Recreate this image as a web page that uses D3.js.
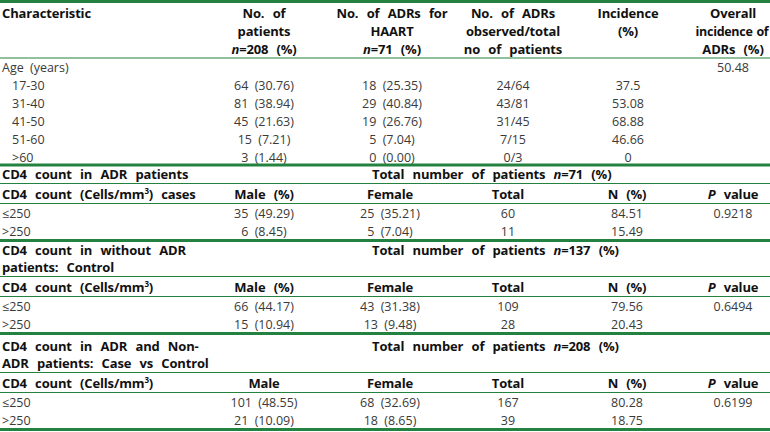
<!DOCTYPE html>
<html><head><meta charset="utf-8">
<script src="https://cdn.jsdelivr.net/npm/d3@7"></script>
<style>
body{margin:0;background:#fff;}
text{font-family:"Open Sans",sans-serif;word-spacing:3px;}
text.b{word-spacing:5px;letter-spacing:-0.15px;}
text.narrow{word-spacing:1px;letter-spacing:-0.3px;}
</style></head>
<body><svg id="c" width="770" height="432"></svg>
<script>
// ---- data ----
const ageGroups = ["17-30","31-40","41-50","51-60",">60"];
const agePatients = ["64 (30.76)","81 (38.94)","45 (21.63)","15 (7.21)","3 (1.44)"];
const ageADRs = ["18 (25.35)","29 (40.84)","19 (26.76)","5 (7.04)","0 (0.00)"];
const ageObserved = ["24/64","43/81","31/45","7/15","0/3"];
const ageIncidence = ["37.5","53.08","68.88","46.66","0"];
const overallIncidence = "50.48";

const cd4Categories = ["≤250", ">250"];
const sectionTitles = [["CD4 count in ADR patients"],["CD4 count in without ADR","patients: Control"],["CD4 count in ADR and Non-","ADR patients: Case vs Control"]];
const sectionN = ["71","137","208"];
const sectionLabel = ["CD4 count (Cells/mm³) cases","CD4 count (Cells/mm³)","CD4 count (Cells/mm³)"];
const sectionMaleHead = ["Male (%)","Male (%)","Male"];
const maleVals = [["35 (49.29)","6 (8.45)"],["66 (44.17)","15 (10.94)"],["101 (48.55)","21 (10.09)"]];
const femaleVals = [["25 (35.21)","5 (7.04)"],["43 (31.38)","13 (9.48)"],["68 (32.69)","18 (8.65)"]];
const totalVals = [["60","11"],["109","28"],["167","39"]];
const nPctVals = [["84.51","15.49"],["79.56","20.43"],["80.28","18.75"]];
const pVals = ["0.9218","0.6494","0.6199"];

// ---- layout ----
const svg = d3.select("#c");
const colX = d3.scaleOrdinal().domain(["c1","c2","c3","c4","c5","c6"]).range([2,264,392,513,628,733]);
const thick = "#23823f", thin = "#6aaa78";
const txt = "#3a3a3a";
const FS = 12.5, FB = 13;

function line(y, w){ svg.append("line").attr("x1",0).attr("x2",770).attr("y1",y).attr("y2",y)
  .attr("stroke", w>1?thick:thin).attr("stroke-width",w); }
function t(x,y,o={}){
  return svg.append("text").attr("class",o.bold?"b":null).attr("x",x).attr("y",y+4.5)
    .attr("text-anchor",o.anchor||"middle").attr("font-size",o.bold?FB:FS)
    .attr("font-weight",o.bold?700:400).attr("fill",o.bold?"#111":txt);
}
function rich(e, parts){ parts.forEach(p=>{ const ts=e.append("tspan").text(p.s);
  if(p.i) ts.attr("font-style","italic"); }); return e; }
function plain(x,y,s,o){ return t(x,y,o).text(s); }
function withSup(x,y,s,o){
  const e=t(x,y,o); const i=s.indexOf("³");
  if(i<0){e.text(s);return e;}
  e.append("tspan").text(s.slice(0,i));
  e.append("tspan").text("3").attr("font-size",8).attr("dy",-5);
  e.append("tspan").text(s.slice(i+1)).attr("dy",5);
  return e;
}

const H = 18;
// header
line(1.5,3);
plain(colX("c1"),13,"Characteristic",{anchor:"start",bold:true});
const heads = [
  ["c2",[[{s:"No. of"}],[{s:"patients"}],[{s:"n",i:1},{s:"=208 (%)"}]]],
  ["c3",[[{s:"No. of ADRs for"}],[{s:"HAART"}],[{s:"n",i:1},{s:"=71 (%)"}]]],
  ["c4",[[{s:"No. of ADRs"}],[{s:"observed/total"}],[{s:"no of patients"}]]],
  ["c5",[[{s:"Incidence"}],[{s:"(%)"}]]],
  ["c6",[[{s:"Overall"}],[{s:"incidence of"}],[{s:"ADRs (%)"}]]]
];
heads.forEach(([c,ls])=>ls.forEach((p,k)=>{
  const e = rich(t(colX(c),13+k*H,{bold:true}),p);
  if(c==="c6" && k===1) e.attr("class","narrow").attr("font-size",12.5).attr("x",732);
}));
line(58,1.2);

// age block
let y0 = 67;
plain(colX("c1"),y0,"Age (years)",{anchor:"start"});
plain(colX("c6"),y0,overallIncidence);
ageGroups.forEach((g,i)=>{
  const y=y0+(i+1)*H;
  plain(colX("c1")+10,y,g,{anchor:"start"});
  plain(colX("c2"),y,agePatients[i]);
  plain(colX("c3"),y,ageADRs[i]);
  plain(colX("c4"),y,ageObserved[i]);
  plain(colX("c5"),y,ageIncidence[i]);
});
line(165,3);

// sections
const sectionTop = [174, 250, 346];
sectionTitles.forEach((tl,s)=>{
  let y = sectionTop[s];
  tl.forEach((l,k)=>plain(colX("c1"),y+k*17,l,{anchor:"start",bold:true}));
  rich(t(372,y,{anchor:"start",bold:true}),[{s:"Total number of patients "},{s:"n",i:1},{s:"="+sectionN[s]+" (%)"}]);
  y += (tl.length-1)*17;
  line(y+9.5,1.2);
  const hy = y+20;
  withSup(colX("c1"),hy,sectionLabel[s],{anchor:"start",bold:true});
  plain(colX("c2"),hy,sectionMaleHead[s],{bold:true});
  plain(390,hy,"Female",{bold:true});
  plain(508,hy,"Total",{bold:true});
  plain(627,hy,"N (%)",{bold:true});
  rich(t(colX("c6"),hy,{bold:true}),[{s:"P",i:1},{s:" value"}]);
  line(hy+9.5,1.2);
  cd4Categories.forEach((c,i)=>{
    const ry = hy+19+i*H;
    plain(colX("c1"),ry,c,{anchor:"start"});
    plain(colX("c2"),ry,maleVals[s][i]);
    plain(390,ry,femaleVals[s][i]);
    plain(508,ry,totalVals[s][i]);
    plain(627,ry,nPctVals[s][i]);
    if(i===0) plain(colX("c6"),ry,pVals[s]);
  });
  line(hy+19+H+9.5,3);
});
</script></body></html>
